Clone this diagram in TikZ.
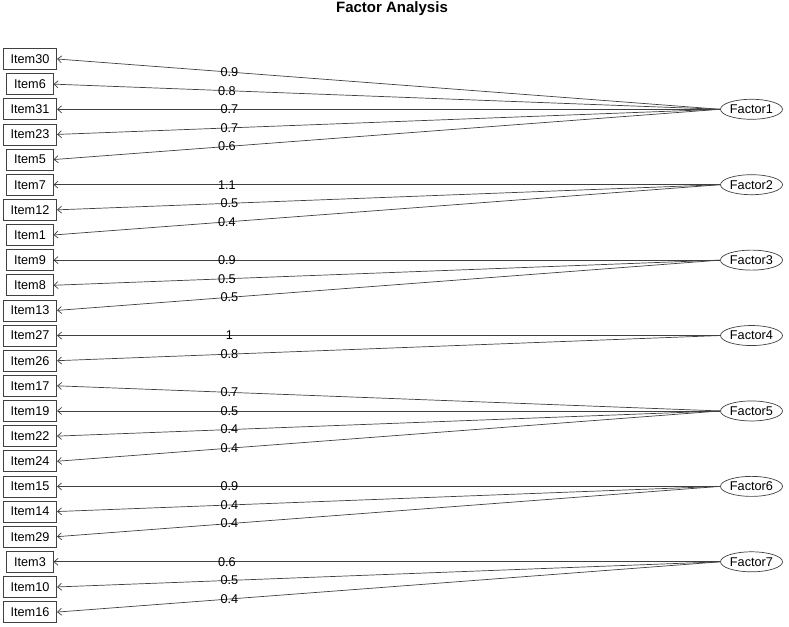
\documentclass[tikz,border=0pt]{standalone}
\usepackage{fontspec}
\setmainfont{Liberation Sans}
\usetikzlibrary{arrows.meta,shapes.geometric}
\begin{document}
\begin{tikzpicture}[x=1pt,y=-1pt,
  itembox/.style={draw=black!75, line width=0.7pt, inner xsep=7.3pt, inner ysep=0pt,
    minimum height=21pt, font=\fontsize{12.7}{14}\selectfont},
  facnode/.style={ellipse, draw=black!75, line width=0.7pt, inner sep=0pt,
    minimum width=62pt, minimum height=20pt, font=\fontsize{12.7}{14}\selectfont},
  loadline/.style={draw=black!75, line width=0.7pt, -{Straight Barb[length=4pt,width=7pt]}},
  loadlab/.style={pos=0.74, inner sep=0pt, font=\fontsize{12.7}{14}\selectfont}]
\useasboundingbox (0,0) rectangle (789,626);
\node[font=\bfseries\fontsize{15}{17}\selectfont] (title) at (392,8.5) {Factor Analysis};
\foreach \nm [count=\i from 0] in {30,6,31,23,5,7,12,1,9,8,13,27,26,17,19,22,24,15,14,29,3,10,16}
  \node[itembox] (i\nm) at (30,{59+25.14*\i}) {Item\nm};
\foreach \f/\r in {1/2,2/5,3/8,4/11,5/14,6/17,7/20}
  \node[facnode] (f\f) at (751.5,{59+25.14*\r}) {Factor\f};
\foreach \f/\it/\v in {1/30/0.9,1/6/0.8,1/31/0.7,1/23/0.7,1/5/0.6,
  2/7/1.1,2/12/0.5,2/1/0.4,
  3/9/0.9,3/8/0.5,3/13/0.5,
  4/27/1,4/26/0.8,
  5/17/0.7,5/19/0.5,5/22/0.4,5/24/0.4,
  6/15/0.9,6/14/0.4,6/29/0.4,
  7/3/0.6,7/10/0.5,7/16/0.4}
  \draw[loadline] (f\f.west) -- (i\it.east) node[loadlab] {\v};
\end{tikzpicture}
\end{document}
